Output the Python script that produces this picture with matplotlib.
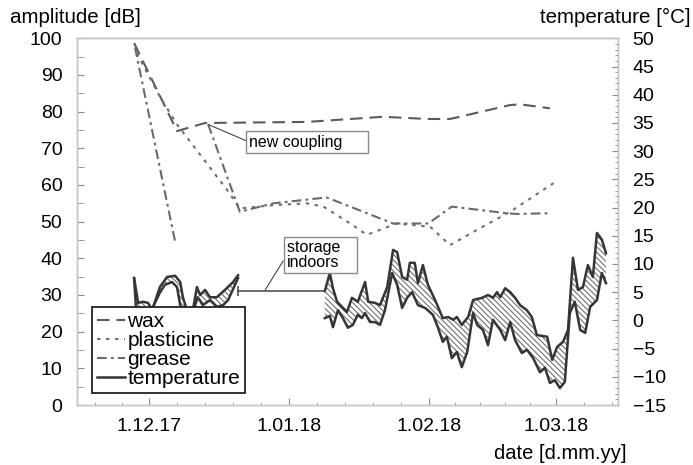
import numpy as np
import matplotlib
matplotlib.use('Agg')
import matplotlib.pyplot as plt
from matplotlib.ticker import MultipleLocator, FixedLocator

plt.rcParams['font.family'] = ['Liberation Sans', 'DejaVu Sans']
plt.rcParams['lines.scale_dashes'] = False
plt.rcParams['hatch.linewidth'] = 0.8

nan = np.nan

# x values are days counted from 1 Dec 2017
month_start_days = [-30, 0, 31, 62, 90, 121]
month_len = [30, 31, 31, 28, 31]
month_label_days = [0, 31, 62, 90]
month_labels = ['1.12.17', '1.01.18', '1.02.18', '1.03.18']

# amplitude [dB]
wax_days = [-3.3, 6.2, 12.4, 20.1, 35.0, 51.8, 61.5, 66.6, 79.9, 82.1, 88.7]
wax_db = [98.7, 74.7, 76.9, 77.0, 77.2, 78.6, 78.0, 78.0, 81.8, 82.0, 80.9]

plasticine_days = [-2.7, 2.4, 6.2, 17.3, 20.1, 27.5, 34.9, 38.6, 44.5, 48.2,
                   54.8, 62.2, 66.6, 73.2, 79.9, 89.5]
plasticine_db = [95.9, 84.1, 76.5, 58.6, 53.6, 54.5, 55.0, 54.1, 49.5, 46.4,
                 49.5, 48.6, 43.6, 48.2, 52.7, 60.5]

# grease: first coupling, then new coupling
grease_days = [-3.1, 5.8, nan, 13.1, 20.1, 27.5, 39.3, 44.5, 54.0, 61.8, 67.0,
               79.1, 81.3, 88.7]
grease_db = [97.5, 44.4, nan, 76.5, 52.7, 55.0, 56.6, 54.1, 49.5, 49.5, 54.1,
             52.3, 52.1, 52.3]

# temperature [°C]: daily upper and lower curves
temp_hi_days = [-3.3, -2.4, -1.3, -0.2, 0.7, 2.4, 4.0, 5.8, 6.9, 7.5, 8.4, 9.7,
                10.6, 11.3, 12.4, 13.5, 15.0, 16.8, 18.6, 19.7, nan,
                38.9, 40.0, 40.7, 41.6, 42.7, 43.8, 44.9, 46.2, 47.8, 48.5,
                50.0, 51.1, 52.7, 54.0, 54.9, 56.0, 57.1, 57.7, 58.8, 59.5,
                60.6, 61.7, 63.3, 65.0, 66.2, 67.3, 68.1, 69.2, 70.6, 71.7,
                73.7, 75.0, 76.1, 77.0, 77.7, 78.8, 79.9, 81.0, 82.1, 83.6,
                84.7, 85.8, 88.1, 89.2, 90.3, 91.6, 92.7, 93.8, 94.9, 96.0,
                97.1, 98.2, 99.1, 100.2, 101.1]
temp_hi = [7.5, 3.1, 3.3, 3.1, 1.8, 5.9, 7.7, 7.9, 6.8, 4.1, 1.8, 1.8,
           5.9, 4.5, 5.4, 4.1, 4.1, 5.4, 6.8, 8.0, nan,
           5.2, 8.4, 5.7, 3.3, 2.4, 1.5, 4.0, 3.3, 6.8, 3.3,
           3.1, 2.7, 5.9, 12.5, 12.1, 7.7, 7.2, 10.2, 10.2, 6.6,
           9.8, 6.3, 3.6, 0.4, 0.6, 0.1, 0.6, -0.8, 0.6, 3.6,
           4.0, 4.5, 4.0, 5.0, 4.1, 5.7, 5.0, 4.0, 2.7, 1.8,
           0.6, -2.6, -2.9, -7.0, -4.7, -3.8, -1.7, 11.1, 5.4, 5.9,
           9.8, 7.7, 15.5, 14.3, 11.9]
temp_lo_days = [-3.3, -2.9, -1.5, -0.2, 0.9, 2.4, 3.5, 5.1, 6.2, 6.9, 8.0, 9.5,
                10.2, 10.8, 11.9, 13.5, 15.0, 16.4, 17.5, 19.7, nan,
                38.9, 40.0, 40.7, 41.8, 42.9, 44.0, 45.1, 46.2, 47.1, 47.8,
                48.9, 50.0, 51.1, 52.2, 53.8, 54.9, 56.0, 57.1, 58.2, 59.5,
                61.1, 62.8, 63.9, 65.0, 65.9, 67.0, 68.1, 69.2, 70.4, 71.7,
                72.6, 73.9, 75.0, 76.1, 77.7, 78.8, 79.9, 81.0, 82.5, 83.6,
                85.0, 86.5, 87.6, 88.7, 89.8, 90.9, 92.0, 93.1, 94.2, 95.4,
                96.5, 97.6, 99.1, 100.2, 101.1]
temp_lo = [7.5, 2.5, 1.0, 0.8, 2.4, 4.9, 6.3, 6.8, 5.9, 2.7, 0.4, 0.4,
           2.7, 4.1, 2.7, 3.6, 2.4, 2.7, 3.6, 7.5, nan,
           0.4, 0.8, -1.2, 1.8, 0.4, -1.3, -0.8, 1.0, 0.4, 1.3,
           -0.3, -0.3, -0.8, 1.8, 8.4, 6.3, 2.2, 4.0, 5.0, 2.7,
           2.2, 1.0, -1.2, -3.8, -2.9, -6.7, -5.6, -8.3, -5.6, 1.3,
           -0.8, -1.7, -4.4, 0.1, -1.7, -3.5, -0.3, -3.5, -5.8, -5.2,
           -6.7, -9.2, -8.4, -11.1, -10.6, -12.0, -10.9, 1.3, 3.3, -1.7,
           -2.2, 2.4, 3.6, 8.4, 6.6]

# storage indoors period (no measurement)
storage_days = [19.7, 38.9]
storage_level = 5.2

fig = plt.figure(figsize=(6.93, 4.65), dpi=100)
ax1 = fig.add_axes([77 / 693, 60 / 465, 541 / 693, 366.7 / 465])
ax2 = ax1.twinx()

line_kw = dict(linewidth=1.5)
l_wax, = ax1.plot(wax_days, wax_db, color='#5a5a5a', dashes=(9, 5), **line_kw)
l_pl, = ax1.plot(plasticine_days, plasticine_db, color='#707070', dashes=(2.5, 4), **line_kw)
l_gr, = ax1.plot(grease_days, grease_db, color='#6a6a6a', dashes=(7, 3, 2, 3), **line_kw)


def segments(xs, ys):
    out = []
    cur_x, cur_y = [], []
    for x, y in zip(xs, ys):
        if np.isnan(x):
            out.append((cur_x, cur_y))
            cur_x, cur_y = [], []
        else:
            cur_x.append(x)
            cur_y.append(y)
    out.append((cur_x, cur_y))
    return out


for (hx, hy), (lx, ly) in zip(segments(temp_hi_days, temp_hi), segments(temp_lo_days, temp_lo)):
    px = list(hx) + list(lx[::-1])
    py = list(hy) + list(ly[::-1])
    ax2.fill(px, py, facecolor='none', edgecolor='#707070', hatch='\\' * 6, linewidth=0)

l_temp, = ax2.plot(temp_hi_days, temp_hi, color='#353535', linewidth=1.8)
ax2.plot(temp_lo_days, temp_lo, color='#353535', linewidth=1.8)

# storage indoors marker line
ax2.plot(storage_days, [storage_level, storage_level], color='#444444', linewidth=1.1)
ax2.plot([storage_days[0]], [storage_level], marker='|', markersize=7, color='#444444',
         markeredgewidth=1.1)

box_kw = dict(boxstyle='square,pad=0.2', facecolor='white', edgecolor='#8a8a8a', linewidth=1)
arrow_kw = dict(arrowstyle='-', color='#444444', linewidth=0.8, shrinkA=0, shrinkB=0,
                relpos=(0, 0.5))
ax2.annotate('storage   \nindoors', xy=(25.7, 5.4), xytext=(30.5, 11.6),
             textcoords='data', ha='left', va='center', fontsize=11.5, linespacing=1.0,
             bbox=box_kw, arrowprops=arrow_kw, zorder=6)
ax2.annotate('new coupling     ', xy=(13.1, 76.5), xycoords=ax1.transData,
             xytext=(22.2, 71.7), textcoords=ax1.transData, ha='left', va='center',
             fontsize=11.5, bbox=box_kw, arrowprops=arrow_kw, zorder=6)

# axes limits and ticks
ax1.set_xlim(-15.93, 103.76)
ax1.set_ylim(0, 100)
ax2.set_ylim(-15, 50)

minor_days = []
for start, n in zip(month_start_days, month_len):
    for k in range(1, 5):
        minor_days.append(start + k * n / 5)
ax1.xaxis.set_major_locator(FixedLocator(month_label_days))
ax1.set_xticklabels(month_labels)
ax1.xaxis.set_minor_locator(FixedLocator(minor_days))
ax1.yaxis.set_major_locator(MultipleLocator(10))
ax1.yaxis.set_minor_locator(MultipleLocator(5))
ax2.yaxis.set_major_locator(MultipleLocator(5))
ax2.yaxis.set_minor_locator(MultipleLocator(1))

tick_col = '#8a8a8a'
for ax in (ax1, ax2):
    for s in ax.spines.values():
        s.set_color('#c4c4c4')
        s.set_linewidth(1.0)
ax1.tick_params(axis='both', which='both', direction='in', color=tick_col, labelsize=14)
ax1.tick_params(axis='y', which='major', length=5, pad=10.5)
ax1.tick_params(axis='y', which='minor', length=5)
ax1.tick_params(axis='x', which='major', length=5, pad=9.5)
ax1.tick_params(axis='x', which='minor', length=2.5)
ax2.tick_params(axis='y', which='both', direction='in', color=tick_col, labelsize=14)
ax2.tick_params(axis='y', which='major', length=4.5, pad=10.5)
ax2.tick_params(axis='y', which='minor', length=2.5)

fig.text(10 / 693, 1 - 23 / 465, 'amplitude [dB]', ha='left', va='baseline', fontsize=14.8)
fig.text(691 / 693, 1 - 23 / 465, 'temperature [°C]', ha='right', va='baseline', fontsize=14.8)
fig.text(627 / 693, 1 - 459 / 465, 'date [d.mm.yy]', ha='right', va='baseline', fontsize=14.5)

leg = ax2.legend([l_wax, l_pl, l_gr, l_temp], ['wax', 'plasticine', 'grease', 'temperature'],
                 loc='upper left', bbox_to_anchor=(15 / 541, 98 / 366.7), borderaxespad=0,
                 fontsize=15, handlelength=1.35, handletextpad=0.1, borderpad=0.25,
                 labelspacing=0.0, fancybox=False, framealpha=1, edgecolor='#222222')
leg.get_frame().set_linewidth(1.3)
leg.set_zorder(10)

fig.savefig('out.png', dpi=100)
